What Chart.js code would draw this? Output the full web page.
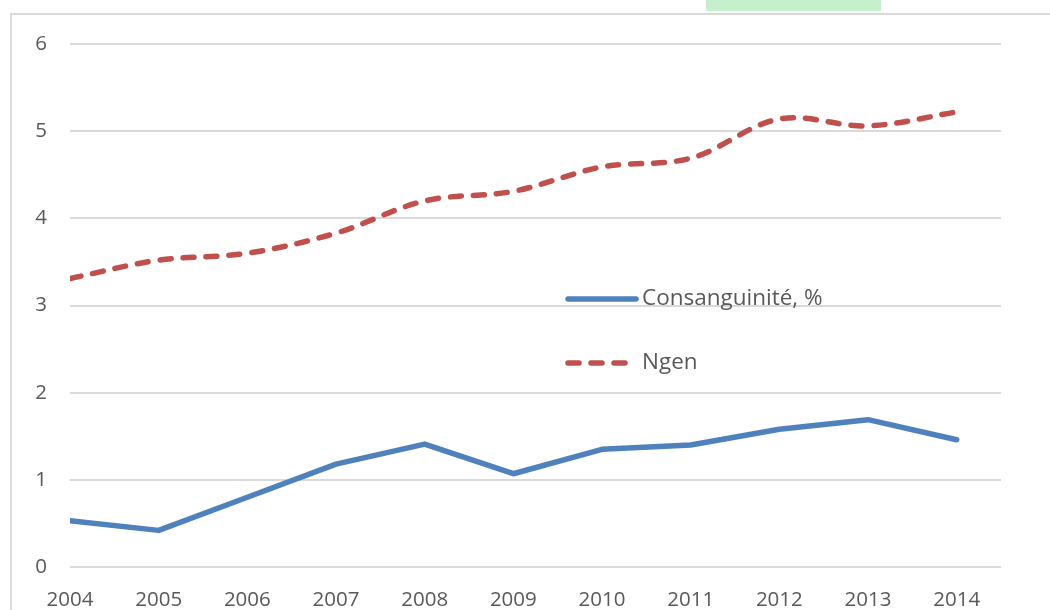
<!DOCTYPE html>
<html>
<head>
<meta charset="utf-8">
<script src="https://cdn.jsdelivr.net/npm/chart.js@4"></script>
<style>
  html, body { margin: 0; padding: 0; background: #fff; width: 1050px; height: 610px; overflow: hidden; }
  #mark { position: absolute; left: 706px; top: 0; width: 175px; height: 11px; background: #c6efce; }
  #frame { position: absolute; left: 10px; top: 13px; width: 1040px; height: 597px;
           border-left: 2px solid #d9d9d9; border-top: 2px solid #d9d9d9; }
  #wrap { position: relative; width: 1038px; height: 595px; }
</style>
</head>
<body>
<div id="mark"></div>
<div id="frame"><div id="wrap"><canvas id="chart"></canvas></div></div>
<script>
const YEARS = [2004, 2005, 2006, 2007, 2008, 2009, 2010, 2011, 2012, 2013, 2014]
const CONSANG = [0.53, 0.42, 0.80, 1.18, 1.41, 1.07, 1.35, 1.40, 1.58, 1.69, 1.46]
const NGEN = [3.31, 3.52, 3.60, 3.83, 4.20, 4.31, 4.59, 4.69, 5.14, 5.06, 5.22]
const Y_TICKS = [0, 1, 2, 3, 4, 5, 6]

const BLUE = '#4f81bd'
const RED = '#c0504d'
const TXT = '#595959'
const FONT = "'Open Sans', sans-serif"

function toPoints(values) {
    return YEARS.map((year, i) => ({ x: year, y: values[i] }))
}

// legend sits inside the plot, like the original
const innerLegend = {
    id: 'innerLegend',
    afterDraw(chart) {
        const ctx = chart.ctx
        const items = [
            { label: 'Consanguinité, %', color: BLUE, dash: [], y: 284 },
            { label: 'Ngen', color: RED, dash: [11, 12], y: 348 }
        ]
        ctx.save()
        for (let it of items) {
            ctx.beginPath()
            ctx.setLineDash(it.dash)
            ctx.lineCap = 'round'
            ctx.lineWidth = 5.5
            ctx.strokeStyle = it.color
            ctx.moveTo(556, it.y)
            ctx.lineTo(624, it.y)
            ctx.stroke()
            ctx.setLineDash([])
            ctx.fillStyle = TXT
            ctx.font = "22.5px " + FONT
            ctx.textBaseline = 'middle'
            ctx.fillText(it.label, 630, it.y)
        }
        ctx.restore()
    }
}

const data = {
    datasets: [{
        label: 'Consanguinité, %',
        data: toPoints(CONSANG),
        borderColor: BLUE,
        borderWidth: 5.5,
        pointRadius: 0,
        tension: 0,
        borderJoinStyle: 'round',
        borderCapStyle: 'round'
    }, {
        label: 'Ngen',
        data: toPoints(NGEN),
        borderColor: RED,
        borderWidth: 5.5,
        borderDash: [11, 12],
        borderCapStyle: 'round',
        pointRadius: 0,
        tension: 0.35
    }]
}

const config = {
    type: 'line',
    data: data,
    options: {
        responsive: true,
        maintainAspectRatio: false,
        animation: false,
        layout: { padding: { top: 29, right: 49, left: 0, bottom: 0 } },
        plugins: { legend: { display: false }, tooltip: { enabled: false } },
        scales: {
            x: {
                type: 'linear',
                min: YEARS[0],
                max: YEARS[YEARS.length - 1] + 0.5,
                afterBuildTicks: (scale) => { scale.ticks = YEARS.map(v => ({ value: v })) },
                afterFit: (scale) => {
                    scale.height = 43
                    scale.paddingLeft = 0
                    scale.paddingRight = 0
                },
                grid: { display: false },
                border: { display: false },
                ticks: {
                    color: TXT,
                    font: { family: FONT, size: 20.5 },
                    padding: 13,
                    maxRotation: 0,
                    autoSkip: false,
                    callback: (v) => String(v)
                }
            },
            y: {
                min: Y_TICKS[0],
                max: Y_TICKS[Y_TICKS.length - 1],
                afterBuildTicks: (scale) => { scale.ticks = Y_TICKS.map(v => ({ value: v })) },
                afterFit: (scale) => {
                    scale.width = 58
                    scale.paddingTop = 0
                    scale.paddingBottom = 0
                },
                grid: { color: '#d9d9d9', lineWidth: 2, drawTicks: false },
                border: { display: false },
                ticks: {
                    color: TXT,
                    font: { family: FONT, size: 20.5 },
                    padding: 23
                }
            }
        }
    },
    plugins: [innerLegend]
}

const myChart = new Chart(document.getElementById('chart'), config)
</script>
</body>
</html>
